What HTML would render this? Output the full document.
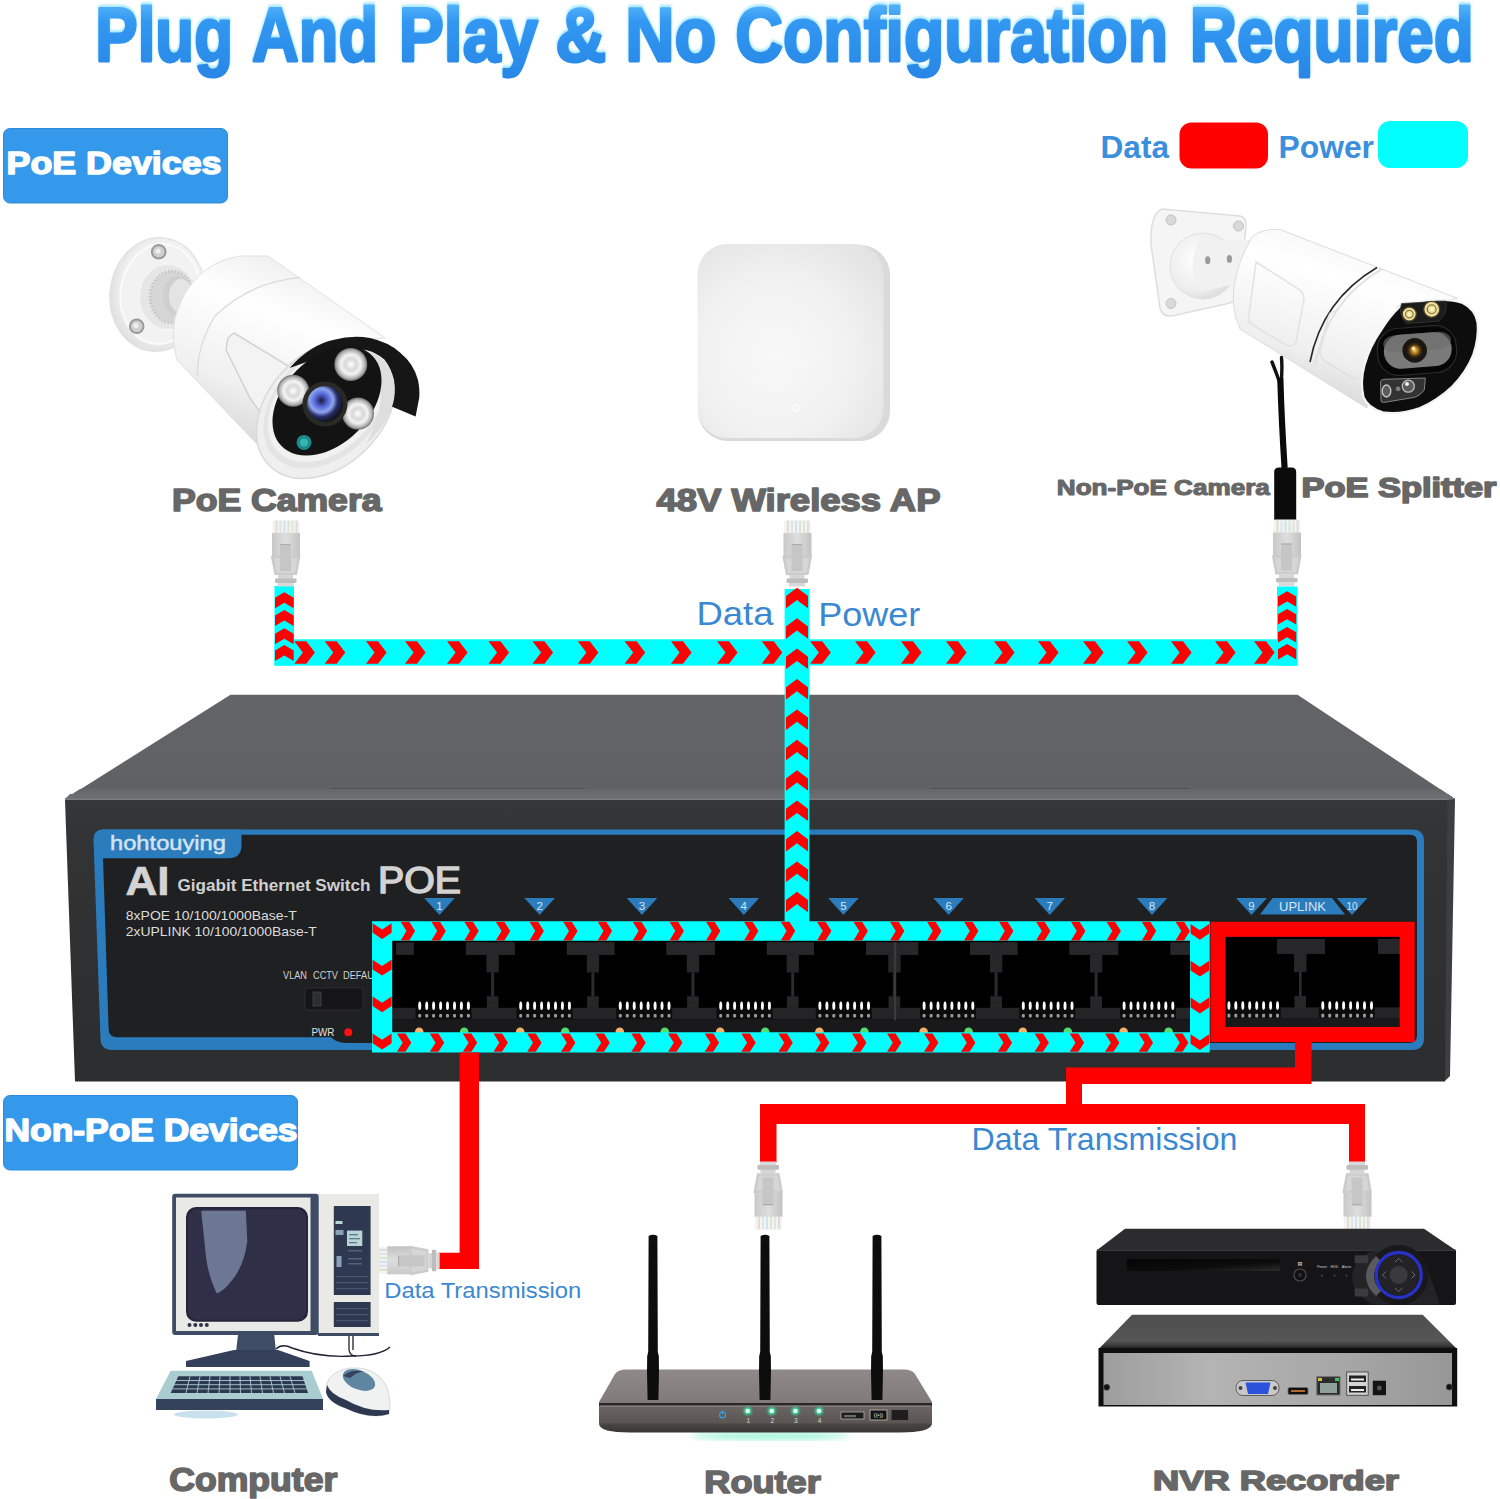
<!DOCTYPE html>
<html lang="en"><head><meta charset="utf-8"><title>Plug And Play</title>
<style>
html,body{margin:0;padding:0;background:#fff;}
body{width:1500px;height:1499px;overflow:hidden;position:relative;font-family:"Liberation Sans",sans-serif;}
svg{position:absolute;left:0;top:0;display:block}
text{font-family:"Liberation Sans",sans-serif;}
.blk{font-weight:bold;fill:#676767;stroke:#676767;stroke-width:1.6px;stroke-linejoin:round;paint-order:stroke}
.bdg{font-weight:bold;fill:#fff;stroke:#fff;stroke-width:1.5px;stroke-linejoin:round}
.lb{fill:#3a88d2}
</style></head><body>
<svg width="1500" height="1499" viewBox="0 0 1500 1499">
<defs>
<linearGradient id="gTitle" gradientUnits="userSpaceOnUse" x1="0" y1="2" x2="0" y2="78">
 <stop offset="0" stop-color="#58b6fb"/><stop offset="0.25" stop-color="#3398f2"/><stop offset="0.75" stop-color="#2b8cea"/><stop offset="1" stop-color="#2a86e6"/>
</linearGradient>
<filter id="fGlow" x="-5%" y="-20%" width="110%" height="140%"><feGaussianBlur stdDeviation="2.2"/></filter>
<filter id="fSoft" x="-20%" y="-20%" width="140%" height="140%"><feGaussianBlur stdDeviation="1.2"/></filter>
<filter id="fSoft3" x="-20%" y="-20%" width="140%" height="140%"><feGaussianBlur stdDeviation="3"/></filter>
<linearGradient id="gTop" x1="0" y1="0" x2="0" y2="1"><stop offset="0" stop-color="#626468"/><stop offset="1" stop-color="#5f6165"/></linearGradient>
<linearGradient id="gFront" x1="0" y1="0" x2="0" y2="1"><stop offset="0" stop-color="#363739"/><stop offset="0.15" stop-color="#323335"/><stop offset="1" stop-color="#2c2d2f"/></linearGradient>
<linearGradient id="gPlug" x1="0" y1="0" x2="1" y2="0"><stop offset="0" stop-color="#c9c9c9"/><stop offset="0.5" stop-color="#dedede"/><stop offset="1" stop-color="#c2c2c2"/></linearGradient>
<linearGradient id="gPin" x1="0" y1="0" x2="0" y2="1"><stop offset="0" stop-color="#ffffff"/><stop offset="0.55" stop-color="#f0f0f0"/><stop offset="0.6" stop-color="#555"/><stop offset="1" stop-color="#8a8a8a"/></linearGradient>

<g id="plug">
 <rect x="1" y="0" width="27" height="15" rx="1.5" fill="#f3f3f1"/>
 <rect x="4" y="1" width="2" height="13" fill="#e6dcc8"/><rect x="8" y="1" width="2" height="13" fill="#d9e6ee"/>
 <rect x="12" y="1" width="2" height="13" fill="#cfe3ea"/><rect x="16" y="1" width="2" height="13" fill="#d6e8d2"/>
 <rect x="20" y="1" width="2" height="13" fill="#e3e3df"/><rect x="24" y="1" width="2" height="13" fill="#ddd"/>
 <rect x="0.5" y="13" width="28" height="25" fill="url(#gPlug)"/>
 <polygon points="-0.7,36 29,36 25.5,55 3,55" fill="#cbcbcb"/>
 <polygon points="2.5,38 26,38 23.5,53 5,53" fill="#d6d6d6"/>
 <rect x="8.5" y="24" width="11" height="27" fill="#c6c6c6"/>
 <rect x="9" y="24" width="10" height="1.2" fill="#adadad"/>
 <rect x="6.5" y="55" width="15" height="4" fill="#d5d5d5"/>
 <rect x="3.5" y="58.5" width="21.5" height="4.5" rx="1" fill="#bdbdbd"/>
 <rect x="6" y="63" width="16" height="3.5" fill="#d8d8d8"/>
</g>

</defs>

<g font-size="76" font-weight="bold">
<text x="95.3" y="58.6" textLength="137.7" lengthAdjust="spacingAndGlyphs" fill="#a8e8ff" stroke="#a8e8ff" stroke-width="3.6" stroke-linejoin="round" filter="url(#fSoft)">Plug</text>
<text x="252.0" y="58.6" textLength="126.0" lengthAdjust="spacingAndGlyphs" fill="#a8e8ff" stroke="#a8e8ff" stroke-width="3.6" stroke-linejoin="round" filter="url(#fSoft)">And</text>
<text x="398.7" y="58.6" textLength="139.3" lengthAdjust="spacingAndGlyphs" fill="#a8e8ff" stroke="#a8e8ff" stroke-width="3.6" stroke-linejoin="round" filter="url(#fSoft)">Play</text>
<text x="555.3" y="58.6" textLength="51.0" lengthAdjust="spacingAndGlyphs" fill="#a8e8ff" stroke="#a8e8ff" stroke-width="3.6" stroke-linejoin="round" filter="url(#fSoft)">&amp;</text>
<text x="625.3" y="58.6" textLength="91.0" lengthAdjust="spacingAndGlyphs" fill="#a8e8ff" stroke="#a8e8ff" stroke-width="3.6" stroke-linejoin="round" filter="url(#fSoft)">No</text>
<text x="735.3" y="58.6" textLength="432.7" lengthAdjust="spacingAndGlyphs" fill="#a8e8ff" stroke="#a8e8ff" stroke-width="3.6" stroke-linejoin="round" filter="url(#fSoft)">Configuration</text>
<text x="1189.7" y="58.6" textLength="284.0" lengthAdjust="spacingAndGlyphs" fill="#a8e8ff" stroke="#a8e8ff" stroke-width="3.6" stroke-linejoin="round" filter="url(#fSoft)">Required</text>
<text x="95.3" y="60.5" textLength="137.7" lengthAdjust="spacingAndGlyphs" fill="url(#gTitle)" stroke="url(#gTitle)" stroke-width="2.8" stroke-linejoin="round">Plug</text>
<text x="252.0" y="60.5" textLength="126.0" lengthAdjust="spacingAndGlyphs" fill="url(#gTitle)" stroke="url(#gTitle)" stroke-width="2.8" stroke-linejoin="round">And</text>
<text x="398.7" y="60.5" textLength="139.3" lengthAdjust="spacingAndGlyphs" fill="url(#gTitle)" stroke="url(#gTitle)" stroke-width="2.8" stroke-linejoin="round">Play</text>
<text x="555.3" y="60.5" textLength="51.0" lengthAdjust="spacingAndGlyphs" fill="url(#gTitle)" stroke="url(#gTitle)" stroke-width="2.8" stroke-linejoin="round">&amp;</text>
<text x="625.3" y="60.5" textLength="91.0" lengthAdjust="spacingAndGlyphs" fill="url(#gTitle)" stroke="url(#gTitle)" stroke-width="2.8" stroke-linejoin="round">No</text>
<text x="735.3" y="60.5" textLength="432.7" lengthAdjust="spacingAndGlyphs" fill="url(#gTitle)" stroke="url(#gTitle)" stroke-width="2.8" stroke-linejoin="round">Configuration</text>
<text x="1189.7" y="60.5" textLength="284.0" lengthAdjust="spacingAndGlyphs" fill="url(#gTitle)" stroke="url(#gTitle)" stroke-width="2.8" stroke-linejoin="round">Required</text>
</g>
<rect x="3.5" y="128.5" width="224" height="74.5" rx="6.5" fill="#3499ea" stroke="#2f8bd9" stroke-width="1"/>
<text class="bdg" x="6.5" y="173.8" font-size="31.5" textLength="215" lengthAdjust="spacingAndGlyphs">PoE Devices</text>
<rect x="3.5" y="1095.5" width="294" height="74.5" rx="6.5" fill="#3499ea" stroke="#2f8bd9" stroke-width="1"/>
<text class="bdg" x="4.5" y="1141.2" font-size="32" textLength="293" lengthAdjust="spacingAndGlyphs">Non-PoE Devices</text>
<text x="1100.5" y="157.6" font-size="31.5" font-weight="bold" fill="#3b8fdc" textLength="68.5" lengthAdjust="spacingAndGlyphs">Data</text>
<rect x="1179.5" y="122.5" width="88.5" height="46" rx="12" fill="#ff0000"/>
<text x="1278.5" y="158.2" font-size="31.5" font-weight="bold" fill="#3b8fdc" textLength="95.5" lengthAdjust="spacingAndGlyphs">Power</text>
<rect x="1378" y="121" width="90" height="47" rx="12" fill="#00ffff"/>
<g id="cam1">
<defs>
<radialGradient id="c1base" cx="0.55" cy="0.45" r="0.6"><stop offset="0" stop-color="#ffffff"/><stop offset="0.7" stop-color="#f1f1f1"/><stop offset="1" stop-color="#dcdcdc"/></radialGradient>
<linearGradient id="c1body" x1="0.62" y1="0.1" x2="0.3" y2="0.9"><stop offset="0" stop-color="#f2f2f2"/><stop offset="0.25" stop-color="#ffffff"/><stop offset="0.7" stop-color="#f0f0f0"/><stop offset="1" stop-color="#d9d9d9"/></linearGradient>
<radialGradient id="c1led" cx="0.5" cy="0.5" r="0.5"><stop offset="0" stop-color="#ffffff"/><stop offset="0.35" stop-color="#d8d8d8"/><stop offset="0.6" stop-color="#f4f4f4"/><stop offset="0.85" stop-color="#b5b5b5"/><stop offset="1" stop-color="#6f6f6f"/></radialGradient>
<radialGradient id="c1lens" cx="0.4" cy="0.4" r="0.6"><stop offset="0" stop-color="#1b1b3a"/><stop offset="0.3" stop-color="#5566d8"/><stop offset="0.55" stop-color="#8fa6ee"/><stop offset="0.75" stop-color="#2a2f6a"/><stop offset="1" stop-color="#141420"/></radialGradient>
</defs>
<ellipse cx="157.5" cy="294.5" rx="47.5" ry="57" transform="rotate(7 157.5 294.5)" fill="url(#c1base)" stroke="#dedede" stroke-width="1"/>
<ellipse cx="160.5" cy="294" rx="40" ry="50" transform="rotate(7 160.5 294)" fill="#f2f2f2" stroke="#fbfbfb" stroke-width="2"/>
<circle cx="158.7" cy="251.7" r="6.8" fill="#cfcfcf" stroke="#9a9a9a" stroke-width="2"/><circle cx="158" cy="251" r="2.6" fill="#efefef"/>
<circle cx="136.7" cy="326.3" r="6.8" fill="#cfcfcf" stroke="#9a9a9a" stroke-width="2"/><circle cx="136" cy="325.6" r="2.6" fill="#efefef"/>
<ellipse cx="168" cy="297" rx="29" ry="33" fill="#e6e6e6" stroke="#f4f4f4" stroke-width="2"/>
<ellipse cx="172" cy="297" rx="22" ry="26" fill="#d6d6d6" stroke="#c2c2c2" stroke-width="3" stroke-dasharray="1.2 2.2"/>
<ellipse cx="178" cy="296" rx="15" ry="20" fill="#cfcfcf"/>
<ellipse cx="181" cy="296" rx="12" ry="17" fill="#e4e4e4"/>
<path d="M268,256 L385,338 Q330,340 292,372 Q262,410 272,460 L177,360 Q171,340 175,318 Q181,296 193,282 Q212,260 240,256 Z" fill="url(#c1body)" stroke="#e1e1e1" stroke-width="1"/>
<path d="M300,277.7 Q250,282 215,316 Q197,345 197.5,376" fill="none" stroke="#dadada" stroke-width="1.3"/>
<path d="M228,338 L234,333 L290,367 Q268,392 262,415 L250,398 L226,350 Z" fill="#f3f3f3" stroke="#d2d2d2" stroke-width="1.5"/>
<ellipse cx="326" cy="409" rx="80" ry="57" transform="rotate(-45 326 409)" fill="#efefef" stroke="#d9d9d9" stroke-width="1.5"/>
<ellipse cx="327" cy="405" rx="74" ry="51" transform="rotate(-45 327 405)" fill="#e4e4e4"/>
<ellipse cx="327" cy="403" rx="69" ry="47" transform="rotate(-45 327 403)" fill="#f1f1f1"/>
<path d="M289.6,368 Q310,345 334,339.8 Q352,335 370,338 Q388,342 400,352.4 Q414,364 418,380 Q420,390 419.2,398 L415.6,416.6 L391.6,406.4 Q396,392 394,380 Q391,368 384.4,359.6 Q376,352 365.2,350 Q340,346 318,358 Z" fill="#161616"/>
<path d="M365,350 Q386,356 393,378 Q398,398 388,416 Q380,432 366,444 Q384,410 380,386 Q378,366 365,350 Z" fill="#dedede"/>
<ellipse cx="327" cy="401" rx="64" ry="43" transform="rotate(-45 327 401)" fill="#131314"/>
<circle cx="350.8" cy="364.4" r="16.5" fill="url(#c1led)"/>
<circle cx="293.2" cy="390.8" r="16" fill="url(#c1led)"/>
<circle cx="358" cy="413.6" r="16" fill="url(#c1led)"/>
<circle cx="325" cy="404" r="22.5" fill="#2a2a24"/>
<circle cx="325" cy="404" r="18" fill="url(#c1lens)"/>
<circle cx="304" cy="442.4" r="7.5" fill="#1a8a8a"/>
<circle cx="304" cy="442.4" r="4" fill="#35b5ae"/>
</g>

<text class="blk" x="172" y="510.5" font-size="31" textLength="209.5" lengthAdjust="spacingAndGlyphs">PoE Camera</text>
<g id="ap">
<defs><radialGradient id="apg" cx="0.42" cy="0.58" r="0.75"><stop offset="0" stop-color="#f8f8f8"/><stop offset="0.55" stop-color="#f1f1f1"/><stop offset="1" stop-color="#e2e2e2"/></radialGradient></defs>
<rect x="698" y="245" width="192" height="196" rx="30" fill="#dadada"/>
<rect x="697.5" y="244" width="186" height="194" rx="30" fill="url(#apg)"/>
<circle cx="796" cy="408" r="3" fill="none" stroke="#fbfbfb" stroke-width="1.5"/>
</g>

<text class="blk" x="656.5" y="511" font-size="31" textLength="284" lengthAdjust="spacingAndGlyphs">48V Wireless AP</text>
<g id="cam2">
<defs>
<linearGradient id="c2body" x1="0.7" y1="0.05" x2="0.35" y2="0.95"><stop offset="0" stop-color="#f4f4f4"/><stop offset="0.3" stop-color="#ffffff"/><stop offset="0.75" stop-color="#efefef"/><stop offset="1" stop-color="#d6d6d6"/></linearGradient>
<radialGradient id="c2dome" cx="0.4" cy="0.4" r="0.7"><stop offset="0" stop-color="#ffffff"/><stop offset="0.7" stop-color="#ececec"/><stop offset="1" stop-color="#d4d4d4"/></radialGradient>
<radialGradient id="c2lens" cx="0.5" cy="0.5" r="0.5"><stop offset="0" stop-color="#f7d36a"/><stop offset="0.35" stop-color="#b07a1e"/><stop offset="0.7" stop-color="#3a2a10"/><stop offset="1" stop-color="#111"/></radialGradient>
</defs>
<path d="M1162,209 L1240,216 Q1247,218 1246,226 L1240,292 Q1238,300 1230,303 L1172,316 Q1162,317 1160,308 L1151,244 Q1150,214 1162,209 Z" fill="#f5f5f5" stroke="#dedede" stroke-width="1.5"/>
<circle cx="1171" cy="220" r="5" fill="#d9d9d9" stroke="#c2c2c2"/><circle cx="1238.5" cy="226" r="5" fill="#d9d9d9" stroke="#c2c2c2"/><circle cx="1171" cy="303.5" r="5" fill="#d9d9d9" stroke="#c2c2c2"/>
<circle cx="1203" cy="266" r="33" fill="url(#c2dome)" stroke="#e1e1e1"/>
<path d="M1200,240 L1250,240 L1236,284 L1200,292 Q1185,266 1200,240 Z" fill="#f1f1f1"/>
<ellipse cx="1207.7" cy="260.3" rx="2.6" ry="4" fill="#9a9a9a"/><ellipse cx="1229.4" cy="259" rx="2.6" ry="4" fill="#9a9a9a"/>
<path d="M1252,237 Q1262,228 1280,229.5 L1458,298.5 L1398,306 Q1368,360 1367,408 L1240,329 Q1222,290 1252,237 Z" fill="url(#c2body)" stroke="#dcdcdc" stroke-width="1"/>
<path d="M1377,267.5 Q1322,300 1310,362" fill="none" stroke="#2a2a2a" stroke-width="1.6"/>
<path d="M1382,269 Q1327,301 1315,365" fill="none" stroke="#e1e1e1" stroke-width="2"/>
<path d="M1256,262 L1300,290 Q1306,296 1303,304 L1296,342 Q1293,348 1286,345 L1248,322 Z" fill="none" stroke="#e2e2e2" stroke-width="1.5"/>
<path d="M1336,312 Q1330,310 1328,318 L1320,352 Q1320,358 1326,362 L1356,380" fill="none" stroke="#e0e0e0" stroke-width="1.5"/>
<path d="M1399.7,306.7 Q1416,300.5 1436,299.7 Q1452,299.5 1462.7,303 Q1475,309 1477.6,322.7 Q1479,338 1473.3,354.7 Q1466,373 1452,386.7 Q1438,400 1420,408 Q1400,415 1382.7,412.3 Q1368,408 1363.5,397.3 Q1360,382 1364.5,365.3 Q1370,346 1380.5,331.2 Q1389,317 1399.7,306.7 Z" fill="#0d0d0e" stroke="#f4f4f4" stroke-width="2.2"/>
<path d="M1401.5,303.5 L1446,301 Q1448,312 1439,321 L1406,323.5 Q1398,314 1401.5,303.5 Z" fill="#1b1b1c" stroke="#3a3a3a" stroke-width="0.8"/>
<circle cx="1409.3" cy="314.1" r="7" fill="#efe0a0" stroke="#4a4326" stroke-width="1.3"/><circle cx="1409.3" cy="314.1" r="3.8" fill="none" stroke="#8a7a3a" stroke-width="1.2"/><circle cx="1409.3" cy="314.1" r="1.6" fill="#fff6cc"/>
<circle cx="1431.7" cy="309.3" r="8" fill="#efe0a0" stroke="#4a4326" stroke-width="1.3"/><circle cx="1431.7" cy="309.3" r="4.4" fill="none" stroke="#8a7a3a" stroke-width="1.3"/><circle cx="1431.7" cy="309.3" r="1.8" fill="#fff6cc"/>
<g transform="rotate(-4.4 1417 350.5)">
<rect x="1377.5" y="327" width="79" height="47" rx="21" fill="#060606" stroke="#2a2a2b" stroke-width="1.2"/>
<rect x="1383.8" y="333.5" width="68" height="34" rx="17" fill="#7a7a7a"/>
<rect x="1383.8" y="333.5" width="68" height="17" rx="12" fill="#6c6c6c" opacity="0.6"/>
</g>
<circle cx="1414.7" cy="350.4" r="12.3" fill="#1a1712"/>
<circle cx="1414.7" cy="350.4" r="9" fill="url(#c2lens)"/>
<circle cx="1413.5" cy="348.5" r="2" fill="#ffdf90"/>
<path d="M1380.5,381.5 Q1381,379.5 1384,379.3 L1425.3,378 L1424.3,389.9 Q1421,395 1414.7,397.3 L1383.5,402.5 Q1380.8,402.7 1381,400 Z" fill="#333334" stroke="#8e8e8e" stroke-width="0.9"/>
<ellipse cx="1386.5" cy="391" rx="4.3" ry="6" fill="#5c5c5c" stroke="#c9c9c9" stroke-width="1.3"/>
<circle cx="1408.3" cy="386.2" r="6" fill="#5a5a5a" stroke="#bdbdbd" stroke-width="1.3"/><circle cx="1407" cy="384" r="2" fill="#f2f2f2"/>
<circle cx="1398.1" cy="388.8" r="2.4" fill="#7e7e7e"/>
<path d="M1272,362 Q1276,372 1279.5,382 M1281.5,357.5 Q1282.5,370 1281,384" fill="none" stroke="#111" stroke-width="3.4" stroke-linecap="round"/>
<path d="M1280.3,378 Q1281.5,420 1284.6,468" fill="none" stroke="#0a0a0a" stroke-width="6.2"/>
<path d="M1274.2,472 Q1274.2,467.4 1279,467.4 L1291.5,467.4 Q1296.2,467.4 1296.2,472 L1296.2,520 L1274.2,520 Z" fill="#0b0b0b"/>
</g>

<text class="blk" x="1056.8" y="495.3" font-size="22" textLength="213" lengthAdjust="spacingAndGlyphs" style="stroke-width:1.1px">Non-PoE Camera</text>
<text class="blk" x="1301.5" y="497" font-size="27.8" textLength="195" lengthAdjust="spacingAndGlyphs">PoE Splitter</text>
<rect x="274.5" y="639.3" width="1023" height="26.3" fill="#00ffff"/>
<polygon points="294.3,641.2 306.3,641.2 314.9,652.5 306.3,663.7 294.3,663.7 302.9,652.5" fill="#ff0000" />
<polygon points="324.7,641.2 336.7,641.2 345.3,652.5 336.7,663.7 324.7,663.7 333.3,652.5" fill="#ff0000" />
<polygon points="366.0,641.2 378.0,641.2 386.6,652.5 378.0,663.7 366.0,663.7 374.6,652.5" fill="#ff0000" />
<polygon points="405.0,641.2 417.0,641.2 425.6,652.5 417.0,663.7 405.0,663.7 413.6,652.5" fill="#ff0000" />
<polygon points="447.0,641.2 459.0,641.2 467.6,652.5 459.0,663.7 447.0,663.7 455.6,652.5" fill="#ff0000" />
<polygon points="488.5,641.2 500.5,641.2 509.1,652.5 500.5,663.7 488.5,663.7 497.1,652.5" fill="#ff0000" />
<polygon points="532.5,641.2 544.5,641.2 553.1,652.5 544.5,663.7 532.5,663.7 541.1,652.5" fill="#ff0000" />
<polygon points="577.8,641.2 589.8,641.2 598.4,652.5 589.8,663.7 577.8,663.7 586.4,652.5" fill="#ff0000" />
<polygon points="624.6,641.2 636.6,641.2 645.2,652.5 636.6,663.7 624.6,663.7 633.2,652.5" fill="#ff0000" />
<polygon points="671.0,641.2 683.0,641.2 691.6,652.5 683.0,663.7 671.0,663.7 679.6,652.5" fill="#ff0000" />
<polygon points="717.0,641.2 729.0,641.2 737.6,652.5 729.0,663.7 717.0,663.7 725.6,652.5" fill="#ff0000" />
<polygon points="761.7,641.2 773.7,641.2 782.3,652.5 773.7,663.7 761.7,663.7 770.3,652.5" fill="#ff0000" />
<polygon points="810.2,641.2 822.2,641.2 830.8,652.5 822.2,663.7 810.2,663.7 818.8,652.5" fill="#ff0000" />
<polygon points="855.0,641.2 867.0,641.2 875.6,652.5 867.0,663.7 855.0,663.7 863.6,652.5" fill="#ff0000" />
<polygon points="901.0,641.2 913.0,641.2 921.6,652.5 913.0,663.7 901.0,663.7 909.6,652.5" fill="#ff0000" />
<polygon points="946.0,641.2 958.0,641.2 966.6,652.5 958.0,663.7 946.0,663.7 954.6,652.5" fill="#ff0000" />
<polygon points="994.0,641.2 1006.0,641.2 1014.6,652.5 1006.0,663.7 994.0,663.7 1002.6,652.5" fill="#ff0000" />
<polygon points="1038.0,641.2 1050.0,641.2 1058.6,652.5 1050.0,663.7 1038.0,663.7 1046.6,652.5" fill="#ff0000" />
<polygon points="1083.0,641.2 1095.0,641.2 1103.6,652.5 1095.0,663.7 1083.0,663.7 1091.6,652.5" fill="#ff0000" />
<polygon points="1127.0,641.2 1139.0,641.2 1147.6,652.5 1139.0,663.7 1127.0,663.7 1135.6,652.5" fill="#ff0000" />
<polygon points="1171.0,641.2 1183.0,641.2 1191.6,652.5 1183.0,663.7 1171.0,663.7 1179.6,652.5" fill="#ff0000" />
<polygon points="1215.0,641.2 1227.0,641.2 1235.6,652.5 1227.0,663.7 1215.0,663.7 1223.6,652.5" fill="#ff0000" />
<polygon points="1254.0,641.2 1266.0,641.2 1274.6,652.5 1266.0,663.7 1254.0,663.7 1262.6,652.5" fill="#ff0000" />
<rect x="274.5" y="586" width="19.5" height="79.6" fill="#00ffff"/>
<polygon points="284.4,592.3 293.7,597.7 293.7,608.2 284.4,602.8 275.0,608.2 275.0,597.7" fill="#ff0000" />
<polygon points="284.4,610.0 293.7,615.4 293.7,625.9 284.4,620.5 275.0,625.9 275.0,615.4" fill="#ff0000" />
<polygon points="284.4,628.3 293.7,633.7 293.7,644.2 284.4,638.8 275.0,644.2 275.0,633.7" fill="#ff0000" />
<polygon points="284.4,645.0 293.7,650.4 293.7,660.9 284.4,655.5 275.0,660.9 275.0,650.4" fill="#ff0000" />
<rect x="1277" y="586.5" width="20.5" height="79.1" fill="#00ffff"/>
<polygon points="1287.1,591.3 1296.2,596.5 1296.2,606.8 1287.1,601.6 1278.0,606.8 1278.0,596.5" fill="#ff0000" />
<polygon points="1287.1,609.0 1296.2,614.2 1296.2,624.5 1287.1,619.3 1278.0,624.5 1278.0,614.2" fill="#ff0000" />
<polygon points="1287.1,627.0 1296.2,632.2 1296.2,642.5 1287.1,637.3 1278.0,642.5 1278.0,632.2" fill="#ff0000" />
<polygon points="1287.1,644.0 1296.2,649.2 1296.2,659.5 1287.1,654.3 1278.0,659.5 1278.0,649.2" fill="#ff0000" />
<text class="lb" x="696.5" y="625.2" font-size="33.5" textLength="77" lengthAdjust="spacingAndGlyphs">Data</text>
<text class="lb" x="818.3" y="625.5" font-size="33.5" textLength="102" lengthAdjust="spacingAndGlyphs">Power</text>
<g id="switch">
<polygon points="230.5,694.7 1297.5,694.7 1455,799 65,799" fill="url(#gTop)"/>
<polygon points="80,789 1440,789 1455,799 65,799" fill="#66686c"/>
<polygon points="70,794 1448,794 1455,799 65,799" fill="#6b6d71"/>
<polygon points="65,798.4 1455,798.4 1455,800.6 65,800.6" fill="#7a7c80"/>
<line x1="330" y1="788.5" x2="585" y2="788.5" stroke="#505155" stroke-width="1"/>
<line x1="930" y1="788.5" x2="1190" y2="788.5" stroke="#505155" stroke-width="1"/>
<polygon points="1446,800 1455,799 1450,1076 1444.5,1081.5" fill="#3d3e42"/>
<polygon points="65,800 1447.5,800 1445,1081.5 75,1081.5" fill="url(#gFront)"/>
<path d="M103,829.5 L1412,829.5 Q1424,829.5 1424,841 L1424,1038 Q1424,1050 1412,1050 L112,1050 Q101,1050 100.5,1039 L93.5,840 Q93.5,829.5 103,829.5 Z" fill="#2b7cbd"/>
<path d="M103,834.7 L1410,834.7 Q1417,834.7 1417,842 L1417,1035 Q1417,1043 1409,1043 L346,1043 Q337,1043 331,1037.3 L117,1037.3 Q109,1037.3 108.6,1029 L102.5,842 Z" fill="#1f2022"/>
<path d="M93.5,840 Q93.5,829.5 103,829.5 L241.5,829.5 L241.5,845 Q241.5,858.3 228,858.3 L102.8,858.3 Z" fill="#2b7cbd"/>
<text x="110" y="850" font-size="21" fill="#d3e3f0" stroke="#d3e3f0" stroke-width="0.5" textLength="116" lengthAdjust="spacingAndGlyphs">hohtouying</text>
<text x="125.5" y="895" font-size="41.5" font-weight="bold" fill="#d4d4d4" stroke="#d4d4d4" stroke-width="0.7" textLength="44" lengthAdjust="spacingAndGlyphs">AI</text>
<text x="177.5" y="890.5" font-size="17" font-weight="bold" fill="#d0d0d0" textLength="193" lengthAdjust="spacingAndGlyphs">Gigabit Ethernet Switch</text>
<text x="378" y="893" font-size="36.5" fill="#d2d2d2" stroke="#d2d2d2" stroke-width="1.5" textLength="83" lengthAdjust="spacingAndGlyphs">POE</text>
<text x="125.8" y="920.3" font-size="13.2" fill="#dcdcdc" textLength="171" lengthAdjust="spacingAndGlyphs">8xPOE 10/100/1000Base-T</text>
<text x="125.8" y="935.7" font-size="13.2" fill="#dcdcdc" textLength="191" lengthAdjust="spacingAndGlyphs">2xUPLINK 10/100/1000Base-T</text>
<text x="283" y="979" font-size="10.2" fill="#cfcfcf" textLength="24" lengthAdjust="spacingAndGlyphs">VLAN</text><text x="313" y="979" font-size="10.2" fill="#cfcfcf" textLength="25" lengthAdjust="spacingAndGlyphs">CCTV</text><text x="343" y="979" font-size="10.2" fill="#cfcfcf" textLength="41" lengthAdjust="spacingAndGlyphs">DEFAULT</text>
<rect x="305" y="988" width="58" height="22" rx="2" fill="#151517" stroke="#2e2f32" stroke-width="1"/>
<rect x="313" y="992" width="8" height="14" fill="#2d2e31" stroke="#45464a" stroke-width="0.8"/>
<text x="311.5" y="1036.3" font-size="10.8" fill="#e0e0e0" textLength="23" lengthAdjust="spacingAndGlyphs">PWR</text>
<circle cx="348.3" cy="1032.3" r="4" fill="#ff1010"/>
</g>

<rect x="392" y="940.5" width="798" height="92" fill="#000"/>
<rect x="392" y="1007.8" width="798" height="11.6" fill="#242426"/>
<rect x="392" y="1019.4" width="798" height="13" fill="#19191b"/>
<rect x="415.6" y="1007.8" width="56" height="11" fill="#0c0c0d"/>
<rect x="396.0" y="942.3" width="17.8" height="12.6" fill="#27272a"/>
<rect x="465.9" y="942.3" width="20" height="12.6" fill="#27272a"/>
<rect x="465.9" y="942.3" width="48.9" height="12.6" fill="#27272a"/>
<rect x="486.5" y="954.9" width="12.3" height="17.6" fill="#27272a"/>
<rect x="491.1" y="972.5" width="3" height="24" fill="#2c2c2e"/>
<rect x="486.8" y="996.3" width="11.6" height="11.6" fill="#27272a"/>
<ellipse cx="419.7" cy="1005.8" rx="1.5" ry="4.3" fill="#fff"/><rect x="418.2" y="1014.0" width="3" height="3.6" rx="1" fill="#9a9a9a"/><ellipse cx="426.7" cy="1005.8" rx="1.5" ry="4.3" fill="#fff"/><rect x="425.2" y="1014.0" width="3" height="3.6" rx="1" fill="#9a9a9a"/><ellipse cx="433.6" cy="1005.8" rx="1.5" ry="4.3" fill="#fff"/><rect x="432.1" y="1014.0" width="3" height="3.6" rx="1" fill="#9a9a9a"/><ellipse cx="440.6" cy="1005.8" rx="1.5" ry="4.3" fill="#fff"/><rect x="439.1" y="1014.0" width="3" height="3.6" rx="1" fill="#9a9a9a"/><ellipse cx="447.5" cy="1005.8" rx="1.5" ry="4.3" fill="#fff"/><rect x="446.0" y="1014.0" width="3" height="3.6" rx="1" fill="#9a9a9a"/><ellipse cx="454.5" cy="1005.8" rx="1.5" ry="4.3" fill="#fff"/><rect x="453.0" y="1014.0" width="3" height="3.6" rx="1" fill="#9a9a9a"/><ellipse cx="461.4" cy="1005.8" rx="1.5" ry="4.3" fill="#fff"/><rect x="459.9" y="1014.0" width="3" height="3.6" rx="1" fill="#9a9a9a"/><ellipse cx="468.4" cy="1005.8" rx="1.5" ry="4.3" fill="#fff"/><rect x="466.9" y="1014.0" width="3" height="3.6" rx="1" fill="#9a9a9a"/>
<circle cx="419.2" cy="1031.8" r="4.3" fill="#f2b36a"/>
<circle cx="464.2" cy="1031.8" r="4.3" fill="#4fe070"/>
<rect x="516.6" y="1007.8" width="56" height="11" fill="#0c0c0d"/>
<rect x="497.0" y="942.3" width="17.8" height="12.6" fill="#27272a"/>
<rect x="566.9" y="942.3" width="20" height="12.6" fill="#27272a"/>
<rect x="566.9" y="942.3" width="47.5" height="12.6" fill="#27272a"/>
<rect x="586.8" y="954.9" width="12.3" height="17.6" fill="#27272a"/>
<rect x="591.4" y="972.5" width="3" height="24" fill="#2c2c2e"/>
<rect x="587.1" y="996.3" width="11.6" height="11.6" fill="#27272a"/>
<ellipse cx="520.7" cy="1005.8" rx="1.5" ry="4.3" fill="#fff"/><rect x="519.2" y="1014.0" width="3" height="3.6" rx="1" fill="#9a9a9a"/><ellipse cx="527.7" cy="1005.8" rx="1.5" ry="4.3" fill="#fff"/><rect x="526.2" y="1014.0" width="3" height="3.6" rx="1" fill="#9a9a9a"/><ellipse cx="534.6" cy="1005.8" rx="1.5" ry="4.3" fill="#fff"/><rect x="533.1" y="1014.0" width="3" height="3.6" rx="1" fill="#9a9a9a"/><ellipse cx="541.6" cy="1005.8" rx="1.5" ry="4.3" fill="#fff"/><rect x="540.1" y="1014.0" width="3" height="3.6" rx="1" fill="#9a9a9a"/><ellipse cx="548.5" cy="1005.8" rx="1.5" ry="4.3" fill="#fff"/><rect x="547.0" y="1014.0" width="3" height="3.6" rx="1" fill="#9a9a9a"/><ellipse cx="555.5" cy="1005.8" rx="1.5" ry="4.3" fill="#fff"/><rect x="554.0" y="1014.0" width="3" height="3.6" rx="1" fill="#9a9a9a"/><ellipse cx="562.4" cy="1005.8" rx="1.5" ry="4.3" fill="#fff"/><rect x="560.9" y="1014.0" width="3" height="3.6" rx="1" fill="#9a9a9a"/><ellipse cx="569.4" cy="1005.8" rx="1.5" ry="4.3" fill="#fff"/><rect x="567.9" y="1014.0" width="3" height="3.6" rx="1" fill="#9a9a9a"/>
<circle cx="520.2" cy="1031.8" r="4.3" fill="#f2b36a"/>
<circle cx="565.2" cy="1031.8" r="4.3" fill="#4fe070"/>
<rect x="616.2" y="1007.8" width="56" height="11" fill="#0c0c0d"/>
<rect x="596.6" y="942.3" width="17.8" height="12.6" fill="#27272a"/>
<rect x="666.5" y="942.3" width="20" height="12.6" fill="#27272a"/>
<rect x="666.5" y="942.3" width="48.3" height="12.6" fill="#27272a"/>
<rect x="686.8" y="954.9" width="12.3" height="17.6" fill="#27272a"/>
<rect x="691.4" y="972.5" width="3" height="24" fill="#2c2c2e"/>
<rect x="687.1" y="996.3" width="11.6" height="11.6" fill="#27272a"/>
<ellipse cx="620.3" cy="1005.8" rx="1.5" ry="4.3" fill="#fff"/><rect x="618.8" y="1014.0" width="3" height="3.6" rx="1" fill="#9a9a9a"/><ellipse cx="627.3" cy="1005.8" rx="1.5" ry="4.3" fill="#fff"/><rect x="625.8" y="1014.0" width="3" height="3.6" rx="1" fill="#9a9a9a"/><ellipse cx="634.2" cy="1005.8" rx="1.5" ry="4.3" fill="#fff"/><rect x="632.7" y="1014.0" width="3" height="3.6" rx="1" fill="#9a9a9a"/><ellipse cx="641.2" cy="1005.8" rx="1.5" ry="4.3" fill="#fff"/><rect x="639.7" y="1014.0" width="3" height="3.6" rx="1" fill="#9a9a9a"/><ellipse cx="648.1" cy="1005.8" rx="1.5" ry="4.3" fill="#fff"/><rect x="646.6" y="1014.0" width="3" height="3.6" rx="1" fill="#9a9a9a"/><ellipse cx="655.1" cy="1005.8" rx="1.5" ry="4.3" fill="#fff"/><rect x="653.6" y="1014.0" width="3" height="3.6" rx="1" fill="#9a9a9a"/><ellipse cx="662.0" cy="1005.8" rx="1.5" ry="4.3" fill="#fff"/><rect x="660.5" y="1014.0" width="3" height="3.6" rx="1" fill="#9a9a9a"/><ellipse cx="669.0" cy="1005.8" rx="1.5" ry="4.3" fill="#fff"/><rect x="667.5" y="1014.0" width="3" height="3.6" rx="1" fill="#9a9a9a"/>
<circle cx="619.8" cy="1031.8" r="4.3" fill="#f2b36a"/>
<circle cx="664.8" cy="1031.8" r="4.3" fill="#4fe070"/>
<rect x="716.6" y="1007.8" width="56" height="11" fill="#0c0c0d"/>
<rect x="697.0" y="942.3" width="17.8" height="12.6" fill="#27272a"/>
<rect x="766.9" y="942.3" width="20" height="12.6" fill="#27272a"/>
<rect x="766.9" y="942.3" width="47.1" height="12.6" fill="#27272a"/>
<rect x="786.6" y="954.9" width="12.3" height="17.6" fill="#27272a"/>
<rect x="791.2" y="972.5" width="3" height="24" fill="#2c2c2e"/>
<rect x="786.9" y="996.3" width="11.6" height="11.6" fill="#27272a"/>
<ellipse cx="720.7" cy="1005.8" rx="1.5" ry="4.3" fill="#fff"/><rect x="719.2" y="1014.0" width="3" height="3.6" rx="1" fill="#9a9a9a"/><ellipse cx="727.7" cy="1005.8" rx="1.5" ry="4.3" fill="#fff"/><rect x="726.2" y="1014.0" width="3" height="3.6" rx="1" fill="#9a9a9a"/><ellipse cx="734.6" cy="1005.8" rx="1.5" ry="4.3" fill="#fff"/><rect x="733.1" y="1014.0" width="3" height="3.6" rx="1" fill="#9a9a9a"/><ellipse cx="741.6" cy="1005.8" rx="1.5" ry="4.3" fill="#fff"/><rect x="740.1" y="1014.0" width="3" height="3.6" rx="1" fill="#9a9a9a"/><ellipse cx="748.5" cy="1005.8" rx="1.5" ry="4.3" fill="#fff"/><rect x="747.0" y="1014.0" width="3" height="3.6" rx="1" fill="#9a9a9a"/><ellipse cx="755.5" cy="1005.8" rx="1.5" ry="4.3" fill="#fff"/><rect x="754.0" y="1014.0" width="3" height="3.6" rx="1" fill="#9a9a9a"/><ellipse cx="762.4" cy="1005.8" rx="1.5" ry="4.3" fill="#fff"/><rect x="760.9" y="1014.0" width="3" height="3.6" rx="1" fill="#9a9a9a"/><ellipse cx="769.4" cy="1005.8" rx="1.5" ry="4.3" fill="#fff"/><rect x="767.9" y="1014.0" width="3" height="3.6" rx="1" fill="#9a9a9a"/>
<circle cx="720.2" cy="1031.8" r="4.3" fill="#f2b36a"/>
<circle cx="765.2" cy="1031.8" r="4.3" fill="#4fe070"/>
<rect x="815.8" y="1007.8" width="56" height="11" fill="#0c0c0d"/>
<rect x="796.2" y="942.3" width="17.8" height="12.6" fill="#27272a"/>
<rect x="866.1" y="942.3" width="20" height="12.6" fill="#27272a"/>
<rect x="866.1" y="942.3" width="52.1" height="12.6" fill="#27272a"/>
<rect x="888.3" y="954.9" width="12.3" height="17.6" fill="#27272a"/>
<rect x="892.9" y="972.5" width="3" height="24" fill="#2c2c2e"/>
<rect x="888.6" y="996.3" width="11.6" height="11.6" fill="#27272a"/>
<ellipse cx="819.9" cy="1005.8" rx="1.5" ry="4.3" fill="#fff"/><rect x="818.4" y="1014.0" width="3" height="3.6" rx="1" fill="#9a9a9a"/><ellipse cx="826.9" cy="1005.8" rx="1.5" ry="4.3" fill="#fff"/><rect x="825.4" y="1014.0" width="3" height="3.6" rx="1" fill="#9a9a9a"/><ellipse cx="833.8" cy="1005.8" rx="1.5" ry="4.3" fill="#fff"/><rect x="832.3" y="1014.0" width="3" height="3.6" rx="1" fill="#9a9a9a"/><ellipse cx="840.8" cy="1005.8" rx="1.5" ry="4.3" fill="#fff"/><rect x="839.2" y="1014.0" width="3" height="3.6" rx="1" fill="#9a9a9a"/><ellipse cx="847.7" cy="1005.8" rx="1.5" ry="4.3" fill="#fff"/><rect x="846.2" y="1014.0" width="3" height="3.6" rx="1" fill="#9a9a9a"/><ellipse cx="854.6" cy="1005.8" rx="1.5" ry="4.3" fill="#fff"/><rect x="853.1" y="1014.0" width="3" height="3.6" rx="1" fill="#9a9a9a"/><ellipse cx="861.6" cy="1005.8" rx="1.5" ry="4.3" fill="#fff"/><rect x="860.1" y="1014.0" width="3" height="3.6" rx="1" fill="#9a9a9a"/><ellipse cx="868.5" cy="1005.8" rx="1.5" ry="4.3" fill="#fff"/><rect x="867.0" y="1014.0" width="3" height="3.6" rx="1" fill="#9a9a9a"/>
<circle cx="819.4" cy="1031.8" r="4.3" fill="#f2b36a"/>
<circle cx="864.4" cy="1031.8" r="4.3" fill="#4fe070"/>
<rect x="920.0" y="1007.8" width="56" height="11" fill="#0c0c0d"/>
<rect x="900.4" y="942.3" width="17.8" height="12.6" fill="#27272a"/>
<rect x="970.3" y="942.3" width="20" height="12.6" fill="#27272a"/>
<rect x="970.3" y="942.3" width="47.1" height="12.6" fill="#27272a"/>
<rect x="990.0" y="954.9" width="12.3" height="17.6" fill="#27272a"/>
<rect x="994.6" y="972.5" width="3" height="24" fill="#2c2c2e"/>
<rect x="990.3" y="996.3" width="11.6" height="11.6" fill="#27272a"/>
<ellipse cx="924.1" cy="1005.8" rx="1.5" ry="4.3" fill="#fff"/><rect x="922.6" y="1014.0" width="3" height="3.6" rx="1" fill="#9a9a9a"/><ellipse cx="931.1" cy="1005.8" rx="1.5" ry="4.3" fill="#fff"/><rect x="929.6" y="1014.0" width="3" height="3.6" rx="1" fill="#9a9a9a"/><ellipse cx="938.0" cy="1005.8" rx="1.5" ry="4.3" fill="#fff"/><rect x="936.5" y="1014.0" width="3" height="3.6" rx="1" fill="#9a9a9a"/><ellipse cx="945.0" cy="1005.8" rx="1.5" ry="4.3" fill="#fff"/><rect x="943.5" y="1014.0" width="3" height="3.6" rx="1" fill="#9a9a9a"/><ellipse cx="951.9" cy="1005.8" rx="1.5" ry="4.3" fill="#fff"/><rect x="950.4" y="1014.0" width="3" height="3.6" rx="1" fill="#9a9a9a"/><ellipse cx="958.9" cy="1005.8" rx="1.5" ry="4.3" fill="#fff"/><rect x="957.4" y="1014.0" width="3" height="3.6" rx="1" fill="#9a9a9a"/><ellipse cx="965.8" cy="1005.8" rx="1.5" ry="4.3" fill="#fff"/><rect x="964.3" y="1014.0" width="3" height="3.6" rx="1" fill="#9a9a9a"/><ellipse cx="972.8" cy="1005.8" rx="1.5" ry="4.3" fill="#fff"/><rect x="971.2" y="1014.0" width="3" height="3.6" rx="1" fill="#9a9a9a"/>
<circle cx="923.6" cy="1031.8" r="4.3" fill="#f2b36a"/>
<circle cx="968.6" cy="1031.8" r="4.3" fill="#4fe070"/>
<rect x="1019.2" y="1007.8" width="56" height="11" fill="#0c0c0d"/>
<rect x="999.6" y="942.3" width="17.8" height="12.6" fill="#27272a"/>
<rect x="1069.5" y="942.3" width="20" height="12.6" fill="#27272a"/>
<rect x="1069.5" y="942.3" width="48.7" height="12.6" fill="#27272a"/>
<rect x="1090.0" y="954.9" width="12.3" height="17.6" fill="#27272a"/>
<rect x="1094.6" y="972.5" width="3" height="24" fill="#2c2c2e"/>
<rect x="1090.3" y="996.3" width="11.6" height="11.6" fill="#27272a"/>
<ellipse cx="1023.3" cy="1005.8" rx="1.5" ry="4.3" fill="#fff"/><rect x="1021.8" y="1014.0" width="3" height="3.6" rx="1" fill="#9a9a9a"/><ellipse cx="1030.2" cy="1005.8" rx="1.5" ry="4.3" fill="#fff"/><rect x="1028.8" y="1014.0" width="3" height="3.6" rx="1" fill="#9a9a9a"/><ellipse cx="1037.2" cy="1005.8" rx="1.5" ry="4.3" fill="#fff"/><rect x="1035.7" y="1014.0" width="3" height="3.6" rx="1" fill="#9a9a9a"/><ellipse cx="1044.2" cy="1005.8" rx="1.5" ry="4.3" fill="#fff"/><rect x="1042.7" y="1014.0" width="3" height="3.6" rx="1" fill="#9a9a9a"/><ellipse cx="1051.1" cy="1005.8" rx="1.5" ry="4.3" fill="#fff"/><rect x="1049.6" y="1014.0" width="3" height="3.6" rx="1" fill="#9a9a9a"/><ellipse cx="1058.1" cy="1005.8" rx="1.5" ry="4.3" fill="#fff"/><rect x="1056.6" y="1014.0" width="3" height="3.6" rx="1" fill="#9a9a9a"/><ellipse cx="1065.0" cy="1005.8" rx="1.5" ry="4.3" fill="#fff"/><rect x="1063.5" y="1014.0" width="3" height="3.6" rx="1" fill="#9a9a9a"/><ellipse cx="1072.0" cy="1005.8" rx="1.5" ry="4.3" fill="#fff"/><rect x="1070.5" y="1014.0" width="3" height="3.6" rx="1" fill="#9a9a9a"/>
<circle cx="1022.8" cy="1031.8" r="4.3" fill="#f2b36a"/>
<circle cx="1067.8" cy="1031.8" r="4.3" fill="#4fe070"/>
<rect x="1120.0" y="1007.8" width="56" height="11" fill="#0c0c0d"/>
<rect x="1100.4" y="942.3" width="17.8" height="12.6" fill="#27272a"/>
<rect x="1170.3" y="942.3" width="20" height="12.6" fill="#27272a"/>
<ellipse cx="1124.1" cy="1005.8" rx="1.5" ry="4.3" fill="#fff"/><rect x="1122.6" y="1014.0" width="3" height="3.6" rx="1" fill="#9a9a9a"/><ellipse cx="1131.0" cy="1005.8" rx="1.5" ry="4.3" fill="#fff"/><rect x="1129.5" y="1014.0" width="3" height="3.6" rx="1" fill="#9a9a9a"/><ellipse cx="1138.0" cy="1005.8" rx="1.5" ry="4.3" fill="#fff"/><rect x="1136.5" y="1014.0" width="3" height="3.6" rx="1" fill="#9a9a9a"/><ellipse cx="1144.9" cy="1005.8" rx="1.5" ry="4.3" fill="#fff"/><rect x="1143.4" y="1014.0" width="3" height="3.6" rx="1" fill="#9a9a9a"/><ellipse cx="1151.9" cy="1005.8" rx="1.5" ry="4.3" fill="#fff"/><rect x="1150.4" y="1014.0" width="3" height="3.6" rx="1" fill="#9a9a9a"/><ellipse cx="1158.8" cy="1005.8" rx="1.5" ry="4.3" fill="#fff"/><rect x="1157.3" y="1014.0" width="3" height="3.6" rx="1" fill="#9a9a9a"/><ellipse cx="1165.8" cy="1005.8" rx="1.5" ry="4.3" fill="#fff"/><rect x="1164.3" y="1014.0" width="3" height="3.6" rx="1" fill="#9a9a9a"/><ellipse cx="1172.8" cy="1005.8" rx="1.5" ry="4.3" fill="#fff"/><rect x="1171.2" y="1014.0" width="3" height="3.6" rx="1" fill="#9a9a9a"/>
<circle cx="1123.6" cy="1031.8" r="4.3" fill="#f2b36a"/>
<circle cx="1168.6" cy="1031.8" r="4.3" fill="#4fe070"/>
<rect x="894" y="942.3" width="2.2" height="78" fill="#3a3a3d"/>
<rect x="1225" y="937" width="176" height="90" fill="#000"/>
<rect x="1225" y="1007.4" width="176" height="11" fill="#242426"/>
<rect x="1225" y="1018" width="176" height="9" fill="#19191b"/>
<rect x="1224.8" y="1007.4" width="56" height="10.6" fill="#0c0c0d"/>
<ellipse cx="1228.9" cy="1005.6" rx="1.5" ry="4.3" fill="#fff"/><rect x="1227.4" y="1013.8" width="3" height="3.6" rx="1" fill="#9a9a9a"/><ellipse cx="1235.8" cy="1005.6" rx="1.5" ry="4.3" fill="#fff"/><rect x="1234.3" y="1013.8" width="3" height="3.6" rx="1" fill="#9a9a9a"/><ellipse cx="1242.8" cy="1005.6" rx="1.5" ry="4.3" fill="#fff"/><rect x="1241.3" y="1013.8" width="3" height="3.6" rx="1" fill="#9a9a9a"/><ellipse cx="1249.7" cy="1005.6" rx="1.5" ry="4.3" fill="#fff"/><rect x="1248.2" y="1013.8" width="3" height="3.6" rx="1" fill="#9a9a9a"/><ellipse cx="1256.7" cy="1005.6" rx="1.5" ry="4.3" fill="#fff"/><rect x="1255.2" y="1013.8" width="3" height="3.6" rx="1" fill="#9a9a9a"/><ellipse cx="1263.6" cy="1005.6" rx="1.5" ry="4.3" fill="#fff"/><rect x="1262.1" y="1013.8" width="3" height="3.6" rx="1" fill="#9a9a9a"/><ellipse cx="1270.6" cy="1005.6" rx="1.5" ry="4.3" fill="#fff"/><rect x="1269.1" y="1013.8" width="3" height="3.6" rx="1" fill="#9a9a9a"/><ellipse cx="1277.5" cy="1005.6" rx="1.5" ry="4.3" fill="#fff"/><rect x="1276.0" y="1013.8" width="3" height="3.6" rx="1" fill="#9a9a9a"/>
<rect x="1318.7" y="1007.4" width="56" height="10.6" fill="#0c0c0d"/>
<ellipse cx="1322.8" cy="1005.6" rx="1.5" ry="4.3" fill="#fff"/><rect x="1321.3" y="1013.8" width="3" height="3.6" rx="1" fill="#9a9a9a"/><ellipse cx="1329.8" cy="1005.6" rx="1.5" ry="4.3" fill="#fff"/><rect x="1328.2" y="1013.8" width="3" height="3.6" rx="1" fill="#9a9a9a"/><ellipse cx="1336.7" cy="1005.6" rx="1.5" ry="4.3" fill="#fff"/><rect x="1335.2" y="1013.8" width="3" height="3.6" rx="1" fill="#9a9a9a"/><ellipse cx="1343.6" cy="1005.6" rx="1.5" ry="4.3" fill="#fff"/><rect x="1342.1" y="1013.8" width="3" height="3.6" rx="1" fill="#9a9a9a"/><ellipse cx="1350.6" cy="1005.6" rx="1.5" ry="4.3" fill="#fff"/><rect x="1349.1" y="1013.8" width="3" height="3.6" rx="1" fill="#9a9a9a"/><ellipse cx="1357.5" cy="1005.6" rx="1.5" ry="4.3" fill="#fff"/><rect x="1356.0" y="1013.8" width="3" height="3.6" rx="1" fill="#9a9a9a"/><ellipse cx="1364.5" cy="1005.6" rx="1.5" ry="4.3" fill="#fff"/><rect x="1363.0" y="1013.8" width="3" height="3.6" rx="1" fill="#9a9a9a"/><ellipse cx="1371.5" cy="1005.6" rx="1.5" ry="4.3" fill="#fff"/><rect x="1370.0" y="1013.8" width="3" height="3.6" rx="1" fill="#9a9a9a"/>
<rect x="1277" y="939" width="48" height="15" fill="#27272a"/>
<rect x="1294" y="954" width="12.5" height="18" fill="#27272a"/>
<rect x="1299" y="972" width="2.6" height="25" fill="#2c2c2e"/>
<rect x="1294.5" y="996" width="11.5" height="12" fill="#27272a"/>
<rect x="1378" y="939" width="22" height="15" fill="#27272a"/>
<polygon points="424.2,898.0 454.8,898.0 439.5,915.0" fill="#2b7cbd" />
<text x="439.5" y="909.5" font-size="11.5" fill="#d5e6f4" text-anchor="middle">1</text>
<polygon points="524.4,898.0 555.0,898.0 539.7,915.0" fill="#2b7cbd" />
<text x="539.7" y="909.5" font-size="11.5" fill="#d5e6f4" text-anchor="middle">2</text>
<polygon points="626.7,898.0 657.3,898.0 642.0,915.0" fill="#2b7cbd" />
<text x="642.0" y="909.5" font-size="11.5" fill="#d5e6f4" text-anchor="middle">3</text>
<polygon points="728.5,898.0 759.1,898.0 743.8,915.0" fill="#2b7cbd" />
<text x="743.8" y="909.5" font-size="11.5" fill="#d5e6f4" text-anchor="middle">4</text>
<polygon points="828.1,898.0 858.7,898.0 843.4,915.0" fill="#2b7cbd" />
<text x="843.4" y="909.5" font-size="11.5" fill="#d5e6f4" text-anchor="middle">5</text>
<polygon points="933.3,898.0 963.9,898.0 948.6,915.0" fill="#2b7cbd" />
<text x="948.6" y="909.5" font-size="11.5" fill="#d5e6f4" text-anchor="middle">6</text>
<polygon points="1034.5,898.0 1065.1,898.0 1049.8,915.0" fill="#2b7cbd" />
<text x="1049.8" y="909.5" font-size="11.5" fill="#d5e6f4" text-anchor="middle">7</text>
<polygon points="1136.7,898.0 1167.3,898.0 1152.0,915.0" fill="#2b7cbd" />
<text x="1152.0" y="909.5" font-size="11.5" fill="#d5e6f4" text-anchor="middle">8</text>
<polygon points="1236.0,898.0 1267.0,898.0 1251.5,915.0" fill="#2b7cbd" />
<text x="1251.5" y="909.5" font-size="11.5" fill="#d5e6f4" text-anchor="middle">9</text>
<polygon points="1336.6,898.0 1367.5,898.0 1352.0,915.0" fill="#2b7cbd" />
<text x="1352" y="909.5" font-size="11.5" fill="#d5e6f4" text-anchor="middle" textLength="11" lengthAdjust="spacingAndGlyphs">10</text>
<polygon points="1272.6,898.0 1332.0,898.0 1345.0,914.5 1260.0,914.5" fill="#2b7cbd" />
<text x="1302.5" y="911" font-size="12.5" fill="#d5e6f4" text-anchor="middle" textLength="47" lengthAdjust="spacingAndGlyphs">UPLINK</text>
<rect x="784.6" y="589" width="24.8" height="335" fill="#00ffff"/>
<polygon points="797.0,587.8 808.0,596.0 808.0,608.3 797.0,600.1 786.0,608.3 786.0,596.0" fill="#ff0000" />
<polygon points="797.0,618.2 808.0,626.4 808.0,638.7 797.0,630.5 786.0,638.7 786.0,626.4" fill="#ff0000" />
<polygon points="797.0,648.6 808.0,656.8 808.0,669.1 797.0,660.9 786.0,669.1 786.0,656.8" fill="#ff0000" />
<polygon points="797.0,679.0 808.0,687.2 808.0,699.5 797.0,691.3 786.0,699.5 786.0,687.2" fill="#ff0000" />
<polygon points="797.0,709.4 808.0,717.6 808.0,729.9 797.0,721.7 786.0,729.9 786.0,717.6" fill="#ff0000" />
<polygon points="797.0,739.8 808.0,748.0 808.0,760.3 797.0,752.1 786.0,760.3 786.0,748.0" fill="#ff0000" />
<polygon points="797.0,770.2 808.0,778.4 808.0,790.7 797.0,782.5 786.0,790.7 786.0,778.4" fill="#ff0000" />
<polygon points="797.0,800.6 808.0,808.8 808.0,821.1 797.0,812.9 786.0,821.1 786.0,808.8" fill="#ff0000" />
<polygon points="797.0,831.0 808.0,839.2 808.0,851.5 797.0,843.3 786.0,851.5 786.0,839.2" fill="#ff0000" />
<polygon points="797.0,861.4 808.0,869.6 808.0,881.9 797.0,873.7 786.0,881.9 786.0,869.6" fill="#ff0000" />
<polygon points="797.0,891.8 808.0,900.0 808.0,912.3 797.0,904.1 786.0,912.3 786.0,900.0" fill="#ff0000" />
<path fill-rule="evenodd" fill="#00ffff" d="M372,921.3 H1209.7 V1052.6 H372 Z M392.2,940.8 V1032.3 H1190 V940.8 Z"/>
<polygon points="400.7,921.8 409.3,921.8 415.1,931.1 409.3,940.4 400.7,940.4 406.5,931.1" fill="#ff0000" />
<polygon points="431.4,921.8 440.0,921.8 445.8,931.1 440.0,940.4 431.4,940.4 437.2,931.1" fill="#ff0000" />
<polygon points="464.3,921.8 472.9,921.8 478.7,931.1 472.9,940.4 464.3,940.4 470.1,931.1" fill="#ff0000" />
<polygon points="495.8,921.8 504.4,921.8 510.2,931.1 504.4,940.4 495.8,940.4 501.6,931.1" fill="#ff0000" />
<polygon points="529.5,921.8 538.1,921.8 543.9,931.1 538.1,940.4 529.5,940.4 535.3,931.1" fill="#ff0000" />
<polygon points="563.2,921.8 571.8,921.8 577.6,931.1 571.8,940.4 563.2,940.4 569.0,931.1" fill="#ff0000" />
<polygon points="597.7,921.8 606.3,921.8 612.1,931.1 606.3,940.4 597.7,940.4 603.5,931.1" fill="#ff0000" />
<polygon points="632.8,921.8 641.4,921.8 647.2,931.1 641.4,940.4 632.8,940.4 638.6,931.1" fill="#ff0000" />
<polygon points="669.5,921.8 678.1,921.8 683.9,931.1 678.1,940.4 669.5,940.4 675.3,931.1" fill="#ff0000" />
<polygon points="706.0,921.8 714.6,921.8 720.4,931.1 714.6,940.4 706.0,940.4 711.8,931.1" fill="#ff0000" />
<polygon points="744.0,921.8 752.6,921.8 758.4,931.1 752.6,940.4 744.0,940.4 749.8,931.1" fill="#ff0000" />
<polygon points="780.8,921.8 789.4,921.8 795.2,931.1 789.4,940.4 780.8,940.4 786.6,931.1" fill="#ff0000" />
<polygon points="817.0,921.8 825.6,921.8 831.4,931.1 825.6,940.4 817.0,940.4 822.8,931.1" fill="#ff0000" />
<polygon points="853.5,921.8 862.1,921.8 867.9,931.1 862.1,940.4 853.5,940.4 859.3,931.1" fill="#ff0000" />
<polygon points="890.0,921.8 898.6,921.8 904.4,931.1 898.6,940.4 890.0,940.4 895.8,931.1" fill="#ff0000" />
<polygon points="927.0,921.8 935.6,921.8 941.4,931.1 935.6,940.4 927.0,940.4 932.8,931.1" fill="#ff0000" />
<polygon points="964.0,921.8 972.6,921.8 978.4,931.1 972.6,940.4 964.0,940.4 969.8,931.1" fill="#ff0000" />
<polygon points="999.0,921.8 1007.6,921.8 1013.4,931.1 1007.6,940.4 999.0,940.4 1004.8,931.1" fill="#ff0000" />
<polygon points="1036.0,921.8 1044.6,921.8 1050.4,931.1 1044.6,940.4 1036.0,940.4 1041.8,931.1" fill="#ff0000" />
<polygon points="1071.0,921.8 1079.6,921.8 1085.4,931.1 1079.6,940.4 1071.0,940.4 1076.8,931.1" fill="#ff0000" />
<polygon points="1106.5,921.8 1115.1,921.8 1120.9,931.1 1115.1,940.4 1106.5,940.4 1112.3,931.1" fill="#ff0000" />
<polygon points="1141.8,921.8 1150.4,921.8 1156.2,931.1 1150.4,940.4 1141.8,940.4 1147.6,931.1" fill="#ff0000" />
<polygon points="1175.5,921.8 1184.1,921.8 1189.9,931.1 1184.1,940.4 1175.5,940.4 1181.3,931.1" fill="#ff0000" />
<polygon points="396.9,1033.6 405.5,1033.6 411.3,1042.7 405.5,1051.8 396.9,1051.8 402.7,1042.7" fill="#ff0000" />
<polygon points="429.8,1033.6 438.4,1033.6 444.2,1042.7 438.4,1051.8 429.8,1051.8 435.6,1042.7" fill="#ff0000" />
<polygon points="462.8,1033.6 471.4,1033.6 477.2,1042.7 471.4,1051.8 462.8,1051.8 468.6,1042.7" fill="#ff0000" />
<polygon points="493.5,1033.6 502.1,1033.6 507.9,1042.7 502.1,1051.8 493.5,1051.8 499.3,1042.7" fill="#ff0000" />
<polygon points="527.2,1033.6 535.8,1033.6 541.6,1042.7 535.8,1051.8 527.2,1051.8 533.0,1042.7" fill="#ff0000" />
<polygon points="561.0,1033.6 569.6,1033.6 575.4,1042.7 569.6,1051.8 561.0,1051.8 566.8,1042.7" fill="#ff0000" />
<polygon points="595.4,1033.6 604.0,1033.6 609.8,1042.7 604.0,1051.8 595.4,1051.8 601.2,1042.7" fill="#ff0000" />
<polygon points="631.3,1033.6 639.9,1033.6 645.7,1042.7 639.9,1051.8 631.3,1051.8 637.1,1042.7" fill="#ff0000" />
<polygon points="668.0,1033.6 676.6,1033.6 682.4,1042.7 676.6,1051.8 668.0,1051.8 673.8,1042.7" fill="#ff0000" />
<polygon points="704.7,1033.6 713.3,1033.6 719.1,1042.7 713.3,1051.8 704.7,1051.8 710.5,1042.7" fill="#ff0000" />
<polygon points="741.3,1033.6 749.9,1033.6 755.7,1042.7 749.9,1051.8 741.3,1051.8 747.1,1042.7" fill="#ff0000" />
<polygon points="778.4,1033.6 787.0,1033.6 792.8,1042.7 787.0,1051.8 778.4,1051.8 784.2,1042.7" fill="#ff0000" />
<polygon points="815.0,1033.6 823.6,1033.6 829.4,1042.7 823.6,1051.8 815.0,1051.8 820.8,1042.7" fill="#ff0000" />
<polygon points="852.0,1033.6 860.6,1033.6 866.4,1042.7 860.6,1051.8 852.0,1051.8 857.8,1042.7" fill="#ff0000" />
<polygon points="887.0,1033.6 895.6,1033.6 901.4,1042.7 895.6,1051.8 887.0,1051.8 892.8,1042.7" fill="#ff0000" />
<polygon points="924.0,1033.6 932.6,1033.6 938.4,1042.7 932.6,1051.8 924.0,1051.8 929.8,1042.7" fill="#ff0000" />
<polygon points="961.0,1033.6 969.6,1033.6 975.4,1042.7 969.6,1051.8 961.0,1051.8 966.8,1042.7" fill="#ff0000" />
<polygon points="997.7,1033.6 1006.3,1033.6 1012.1,1042.7 1006.3,1051.8 997.7,1051.8 1003.5,1042.7" fill="#ff0000" />
<polygon points="1034.5,1033.6 1043.1,1033.6 1048.9,1042.7 1043.1,1051.8 1034.5,1051.8 1040.3,1042.7" fill="#ff0000" />
<polygon points="1069.7,1033.6 1078.3,1033.6 1084.1,1042.7 1078.3,1051.8 1069.7,1051.8 1075.5,1042.7" fill="#ff0000" />
<polygon points="1105.0,1033.6 1113.6,1033.6 1119.4,1042.7 1113.6,1051.8 1105.0,1051.8 1110.8,1042.7" fill="#ff0000" />
<polygon points="1138.7,1033.6 1147.3,1033.6 1153.1,1042.7 1147.3,1051.8 1138.7,1051.8 1144.5,1042.7" fill="#ff0000" />
<polygon points="1174.0,1033.6 1182.6,1033.6 1188.4,1042.7 1182.6,1051.8 1174.0,1051.8 1179.8,1042.7" fill="#ff0000" />
<polygon points="382.1,939.0 391.6,932.8 391.6,923.2 382.1,929.4 372.6,923.2 372.6,932.8" fill="#ff0000" />
<polygon points="382.1,975.6 391.6,969.4 391.6,959.8 382.1,966.0 372.6,959.8 372.6,969.4" fill="#ff0000" />
<polygon points="382.1,1012.3 391.6,1006.1 391.6,996.5 382.1,1002.7 372.6,996.5 372.6,1006.1" fill="#ff0000" />
<polygon points="382.1,1049.4 391.6,1043.2 391.6,1033.6 382.1,1039.8 372.6,1033.6 372.6,1043.2" fill="#ff0000" />
<polygon points="1199.9,939.8 1209.2,933.6 1209.2,924.0 1199.9,930.2 1190.6,924.0 1190.6,933.6" fill="#ff0000" />
<polygon points="1199.9,976.6 1209.2,970.4 1209.2,960.8 1199.9,967.0 1190.6,960.8 1190.6,970.4" fill="#ff0000" />
<polygon points="1199.9,1013.4 1209.2,1007.2 1209.2,997.6 1199.9,1003.8 1190.6,997.6 1190.6,1007.2" fill="#ff0000" />
<polygon points="1199.9,1050.0 1209.2,1043.8 1209.2,1034.2 1199.9,1040.4 1190.6,1034.2 1190.6,1043.8" fill="#ff0000" />
<rect x="1218" y="929.3" width="189.2" height="105.2" fill="none" stroke="#ff0000" stroke-width="15"/>
<path d="M1295,1040 H1311.5 V1084 H1082 V1104 H1365 V1162.5 H1349 V1124 H776.5 V1162.5 H760 V1104 H1066 V1067.5 H1295 Z" fill="#ff0000"/>
<path d="M459.6,1052.6 H479 V1269 H438 V1252.7 H459.6 Z" fill="#ff0000"/>
<text class="lb" x="971.5" y="1150" font-size="30.5" textLength="266" lengthAdjust="spacingAndGlyphs">Data Transmission</text>
<text class="lb" x="384.3" y="1298.3" font-size="22" textLength="197" lengthAdjust="spacingAndGlyphs">Data Transmission</text>
<use href="#plug" transform="translate(271.5,520)"/>
<use href="#plug" transform="translate(783,520)"/>
<use href="#plug" transform="translate(1272.5,519.5)"/>
<use href="#plug" transform="translate(754,1230) scale(1,-1.03)"/>
<use href="#plug" transform="translate(1343,1230) scale(1,-1.03)"/>
<use href="#plug" transform="translate(374.5,1274.8) rotate(-90) scale(1,0.98)"/>
<g id="computer">
<ellipse cx="206" cy="1414.5" rx="32" ry="4" fill="#c9e0ef"/>
<rect x="318" y="1194" width="61" height="140" fill="#e9e9e6"/>
<rect x="318" y="1333" width="61" height="3" fill="#3e4c66"/>
<rect x="333.8" y="1206" width="36.8" height="89" fill="#2e3850"/>
<rect x="335.5" y="1221" width="7" height="3" fill="#b8d4d6"/><rect x="335.5" y="1230" width="8" height="5" fill="#8aa0b8"/>
<rect x="347" y="1230.6" width="15.3" height="15.4" fill="#b8d4d6"/>
<rect x="349" y="1234" width="9" height="1.3" fill="#5f7a8a"/><rect x="349" y="1238" width="11" height="1.3" fill="#5f7a8a"/><rect x="349" y="1242" width="8" height="1.3" fill="#5f7a8a"/>
<rect x="336.5" y="1256" width="5" height="11" fill="#8aa0b8"/>
<rect x="348" y="1250" width="14" height="1.5" fill="#55627e"/><rect x="348" y="1258" width="14" height="1.5" fill="#55627e"/><rect x="348" y="1263" width="14" height="1.5" fill="#55627e"/>
<rect x="336" y="1276" width="32" height="1.2" fill="#4a5772"/><rect x="336" y="1282" width="32" height="1.2" fill="#4a5772"/><rect x="336" y="1288" width="32" height="1.2" fill="#4a5772"/>
<rect x="333.8" y="1302" width="36.8" height="25" fill="#2e3850"/>
<rect x="336" y="1308" width="32" height="1.2" fill="#4a5772"/><rect x="336" y="1314" width="32" height="1.2" fill="#4a5772"/><rect x="336" y="1320" width="32" height="1.2" fill="#4a5772"/>
<rect x="172.2" y="1193.8" width="146.5" height="141.2" rx="3" fill="#3e4c66"/>
<rect x="176" y="1197.5" width="134.5" height="133.5" fill="#e9e9e6"/>
<rect x="186" y="1207" width="122" height="114.7" rx="10" fill="#24253a"/>
<rect x="188" y="1209" width="118" height="110.7" rx="9" fill="#2f3047"/>
<path d="M201.3,1212 Q201,1210.7 203,1210.7 L245.8,1210.7 L247.3,1241 Q244,1268 229,1284 Q222,1292 216.7,1293.5 Q208,1275 206,1256.7 Z" fill="#6c7893"/>
<circle cx="189.5" cy="1325" r="2" fill="#2b3147"/><circle cx="195.3" cy="1325" r="2" fill="#2b3147"/><circle cx="201" cy="1325" r="2" fill="#2b3147"/><circle cx="206.8" cy="1325" r="2" fill="#2b3147"/>
<polygon points="238,1335 274.3,1335 276,1352 236,1352" fill="#3e4c66"/>
<polygon points="234,1350 278,1350 309.6,1361 309.6,1367 186,1367 186,1361" fill="#34405a"/>
<path d="M276,1349 Q282,1343 292,1348 Q320,1358 352,1356 Q380,1356 390,1347" fill="none" stroke="#1d2233" stroke-width="1.4"/>
<path d="M349,1336 L349,1350 Q350,1356 356,1356 M353,1336 L353,1350" fill="none" stroke="#1d2233" stroke-width="1.3"/>
<polygon points="170.7,1370.7 311.7,1370.7 323,1399 156,1399" fill="#a8ccd0"/>
<polygon points="178.3,1376.3 302.5,1376.3 308,1393 170.7,1393" fill="#2c3850"/>
<g stroke="#a8ccd0" stroke-width="0.9"><line x1="176" y1="1380.5" x2="304" y2="1380.5"/><line x1="174" y1="1384.7" x2="305.5" y2="1384.7"/><line x1="172.5" y1="1388.9" x2="306.8" y2="1388.9"/>
<line x1="190" y1="1376.3" x2="186" y2="1393"/><line x1="200" y1="1376.3" x2="197" y2="1393"/><line x1="210" y1="1376.3" x2="208" y2="1393"/><line x1="220" y1="1376.3" x2="219" y2="1393"/><line x1="230" y1="1376.3" x2="230" y2="1393"/><line x1="240" y1="1376.3" x2="240.5" y2="1393"/><line x1="250" y1="1376.3" x2="251.5" y2="1393"/><line x1="260" y1="1376.3" x2="262.5" y2="1393"/><line x1="270" y1="1376.3" x2="273.5" y2="1393"/><line x1="280" y1="1376.3" x2="284.5" y2="1393"/><line x1="290" y1="1376.3" x2="295" y2="1393"/></g>
<rect x="156" y="1399" width="167" height="11" fill="#35425c"/>
<path d="M326,1392 Q325,1372 350,1368 Q375,1366 386,1385 Q392,1400 389,1414 Q370,1420 345,1408 Q328,1402 326,1392 Z" fill="#f0f1f1" stroke="#d6dadc" stroke-width="1"/>
<path d="M326,1392 Q328,1402 345,1408 Q370,1420 389,1414 L389,1410 Q366,1412 346,1400 Q330,1394 327,1385 Z" fill="#2e3850"/>
<ellipse cx="359" cy="1380" rx="17" ry="9.5" transform="rotate(22 359 1380)" fill="#5f86a0"/>
<path d="M343,1376 Q352,1368 366,1372 Q360,1370 350,1378 Z" fill="#35425c"/>
</g>

<text class="blk" x="169.3" y="1491" font-size="32.5" textLength="168" lengthAdjust="spacingAndGlyphs">Computer</text>
<g id="router">
<defs>
<linearGradient id="rtop" x1="0" y1="0" x2="0" y2="1"><stop offset="0" stop-color="#8f8987"/><stop offset="1" stop-color="#7f7977"/></linearGradient>
<linearGradient id="rfront" x1="0" y1="0" x2="0" y2="1"><stop offset="0" stop-color="#6c6765"/><stop offset="0.65" stop-color="#5b5654"/><stop offset="0.72" stop-color="#484442"/><stop offset="1" stop-color="#3a3635"/></linearGradient>
</defs>
<ellipse cx="770" cy="1436" rx="80" ry="3.5" fill="#7af0c8" filter="url(#fSoft3)" opacity="0.8"/>
<path d="M626,1369.5 L904,1369.5 Q912,1369.5 915,1374 L932,1402 L932,1405 L599,1405 L599,1402 L615,1374 Q618,1369.5 626,1369.5 Z" fill="url(#rtop)"/>
<path d="M599,1404 L932,1404 L932,1424 Q930,1432.5 900,1432.5 L630,1432.5 Q600,1432.5 599,1424 Z" fill="url(#rfront)"/>
<rect x="599" y="1403" width="333" height="2.6" fill="#2a2625"/>
<rect x="600" y="1405.5" width="331" height="1.2" fill="#8a8583"/>

<path d="M648.6,1236 Q653.0,1233.5 657.4,1236 L657.8,1352 L658.8,1356 L659.0,1372 L658.4,1400 L647.6,1400 L647.0,1372 L647.2,1356 L648.2,1352 Z" fill="#0d0d0e"/>
<path d="M760.6,1236 Q765.0,1233.5 769.4,1236 L769.8,1352 L770.8,1356 L771.0,1372 L770.4,1400 L759.6,1400 L759.0,1372 L759.2,1356 L760.2,1352 Z" fill="#0d0d0e"/>
<path d="M872.6,1236 Q877.0,1233.5 881.4,1236 L881.8,1352 L882.8,1356 L883.0,1372 L882.4,1400 L871.6,1400 L871.0,1372 L871.2,1356 L872.2,1352 Z" fill="#0d0d0e"/>
<circle cx="722.6" cy="1415" r="3" fill="none" stroke="#3aa0e8" stroke-width="1.1"/><rect x="722.1" y="1410.5" width="1" height="4" fill="#3aa0e8"/>
<circle cx="747.7" cy="1411" r="4" fill="#35d89a" filter="url(#fSoft)"/><circle cx="747.7" cy="1411" r="2.3" fill="#e8fff3"/>
<text x="748.2" y="1422.5" font-size="6.5" fill="#d8d8d8" text-anchor="middle">1</text>
<circle cx="771.8" cy="1411" r="4" fill="#35d89a" filter="url(#fSoft)"/><circle cx="771.8" cy="1411" r="2.3" fill="#e8fff3"/>
<text x="772.3" y="1422.5" font-size="6.5" fill="#d8d8d8" text-anchor="middle">2</text>
<circle cx="795.4" cy="1411" r="4" fill="#35d89a" filter="url(#fSoft)"/><circle cx="795.4" cy="1411" r="2.3" fill="#e8fff3"/>
<text x="795.9" y="1422.5" font-size="6.5" fill="#d8d8d8" text-anchor="middle">3</text>
<circle cx="819.0" cy="1411" r="4" fill="#35d89a" filter="url(#fSoft)"/><circle cx="819.0" cy="1411" r="2.3" fill="#e8fff3"/>
<text x="819.5" y="1422.5" font-size="6.5" fill="#d8d8d8" text-anchor="middle">4</text>
<rect x="841" y="1412" width="23" height="7" fill="#1c1c1c" stroke="#a9a5a3" stroke-width="0.9"/><rect x="844" y="1415" width="12" height="2.2" fill="#6f6b69"/>
<rect x="870" y="1410" width="17" height="10" fill="#141414" stroke="#b5b1af" stroke-width="0.9"/><text x="878.5" y="1417.3" font-size="5.5" fill="#e6e6e6" text-anchor="middle">((•))</text>
<rect x="891.6" y="1410" width="16.5" height="10" fill="#1f1d1d"/>
</g>

<text class="blk" x="704.3" y="1493" font-size="31" textLength="116.5" lengthAdjust="spacingAndGlyphs">Router</text>
<g id="nvr">
<defs>
<linearGradient id="nslot" x1="0" y1="0" x2="1" y2="1"><stop offset="0" stop-color="#050505"/><stop offset="0.6" stop-color="#0c0c0c"/><stop offset="1" stop-color="#2c2c2e"/></linearGradient>
<linearGradient id="ntop2" x1="0" y1="0" x2="0" y2="1"><stop offset="0" stop-color="#4e4e4f"/><stop offset="0.75" stop-color="#565657"/><stop offset="0.9" stop-color="#3a3a3b"/><stop offset="1" stop-color="#141415"/></linearGradient>
<linearGradient id="nback" x1="0" y1="0" x2="1" y2="0"><stop offset="0" stop-color="#9d9d9d"/><stop offset="0.3" stop-color="#b4b4b4"/><stop offset="0.7" stop-color="#a6a6a6"/><stop offset="1" stop-color="#979797"/></linearGradient>
</defs>
<polygon points="1125,1228.7 1424,1228.7 1456,1250.5 1096.5,1250.5" fill="#2c2c2e"/>
<rect x="1096.5" y="1249.5" width="359.5" height="55.5" rx="2" fill="#151517"/>
<rect x="1097" y="1249.5" width="358.5" height="1.5" fill="#3a3a3d"/>
<rect x="1126.7" y="1259" width="153.5" height="12" fill="url(#nslot)"/>
<circle cx="1300" cy="1275" r="6" fill="#101012" stroke="#4a4a4d" stroke-width="1.2"/><circle cx="1300" cy="1275" r="2.2" fill="#2c2c2f"/>
<text x="1300" y="1265.5" font-size="4.6" font-weight="bold" fill="#d0d0d0" text-anchor="middle">IR</text>
<text x="1322" y="1268.3" font-size="3.6" fill="#cfcfcf" text-anchor="middle">Power</text><text x="1334.5" y="1268.3" font-size="3.6" fill="#cfcfcf" text-anchor="middle">HDD</text><text x="1346.5" y="1268.3" font-size="3.6" fill="#cfcfcf" text-anchor="middle">Alarm</text>
<circle cx="1322" cy="1275.5" r="1.2" fill="#3a3a3d"/><circle cx="1334.5" cy="1275.5" r="1.2" fill="#3a3a3d"/><circle cx="1346.5" cy="1275.5" r="1.2" fill="#3a3a3d"/>
<path d="M1372,1250.5 Q1352,1262 1352,1277 Q1352,1293 1372,1304.5 L1440,1304.5 Q1432,1278 1418,1250.5 Z" fill="#242427"/>
<rect x="1354.7" y="1255.3" width="13.5" height="8" fill="#3b3b3e"/><rect x="1354.7" y="1288.5" width="13.5" height="8" fill="#3b3b3e"/>
<circle cx="1398.7" cy="1275" r="30" fill="#19191c"/>
<path d="M1376,1256 Q1366,1266 1366,1276 Q1366,1287 1376,1296 L1381,1291 Q1374,1284 1374,1276 Q1374,1268 1381,1261 Z" fill="#5a5a5e"/>
<circle cx="1398.7" cy="1275" r="22.5" fill="none" stroke="#2732c4" stroke-width="3.4"/>
<circle cx="1398.7" cy="1275" r="20" fill="#232327"/>
<circle cx="1398.7" cy="1275" r="9" fill="#3a3a3e"/>
<path d="M1395,1262 L1398.7,1258.5 L1402.4,1262 M1395,1288 L1398.7,1291.5 L1402.4,1288 M1386,1271.5 L1382.5,1275 L1386,1278.5 M1411.4,1271.5 L1415,1275 L1411.4,1278.5" fill="none" stroke="#6a6a70" stroke-width="1"/>
<polygon points="1132,1314.8 1422.7,1314.8 1457,1349 1098.7,1349" fill="url(#ntop2)"/>
<rect x="1098.5" y="1348" width="358.7" height="58.5" fill="#0e0e0f"/>
<rect x="1103.5" y="1353" width="348.5" height="52" fill="url(#nback)"/>
<circle cx="1106.7" cy="1387.3" r="3" fill="#111" stroke="#444" stroke-width="0.8"/><circle cx="1449.3" cy="1387" r="3" fill="#111" stroke="#444" stroke-width="0.8"/>
<rect x="1236" y="1380.5" width="43" height="15" rx="7" fill="#c9c9c9" stroke="#5e5e5e" stroke-width="1"/>
<circle cx="1240.5" cy="1388" r="2" fill="#444"/><circle cx="1275" cy="1388" r="2" fill="#444"/>
<path d="M1245.5,1382.5 H1270.5 L1268,1394 H1248 Z" fill="#2b52dc"/>
<rect x="1288" y="1387.5" width="20" height="7" rx="1.5" fill="#111" stroke="#6a6a6a" stroke-width="0.8"/><rect x="1291" y="1390" width="14" height="2" fill="#b06a30"/>
<rect x="1316.8" y="1376.7" width="23.2" height="18.3" fill="#2a2c2c" stroke="#6f6f6f" stroke-width="1"/><rect x="1320" y="1383" width="17" height="10" fill="#8fa09a"/><rect x="1318" y="1378" width="4" height="3" fill="#d0c040"/><rect x="1335" y="1378" width="4" height="3" fill="#40c060"/>
<rect x="1346.7" y="1372" width="21.5" height="23.3" fill="#d4d4d4" stroke="#4f4f4f" stroke-width="1"/><rect x="1349" y="1375.5" width="17" height="6.5" fill="#222"/><rect x="1349" y="1386" width="17" height="6.5" fill="#222"/><rect x="1351" y="1378.5" width="13" height="2" fill="#eee"/><rect x="1351" y="1389" width="13" height="2" fill="#eee"/>
<rect x="1372.8" y="1380.7" width="13.2" height="14.5" fill="#131313"/><circle cx="1379.4" cy="1388" r="2.4" fill="#555"/>
</g>

<text class="blk" x="1153" y="1490.3" font-size="27.8" textLength="246" lengthAdjust="spacingAndGlyphs">NVR Recorder</text>
</svg>
</body></html>
